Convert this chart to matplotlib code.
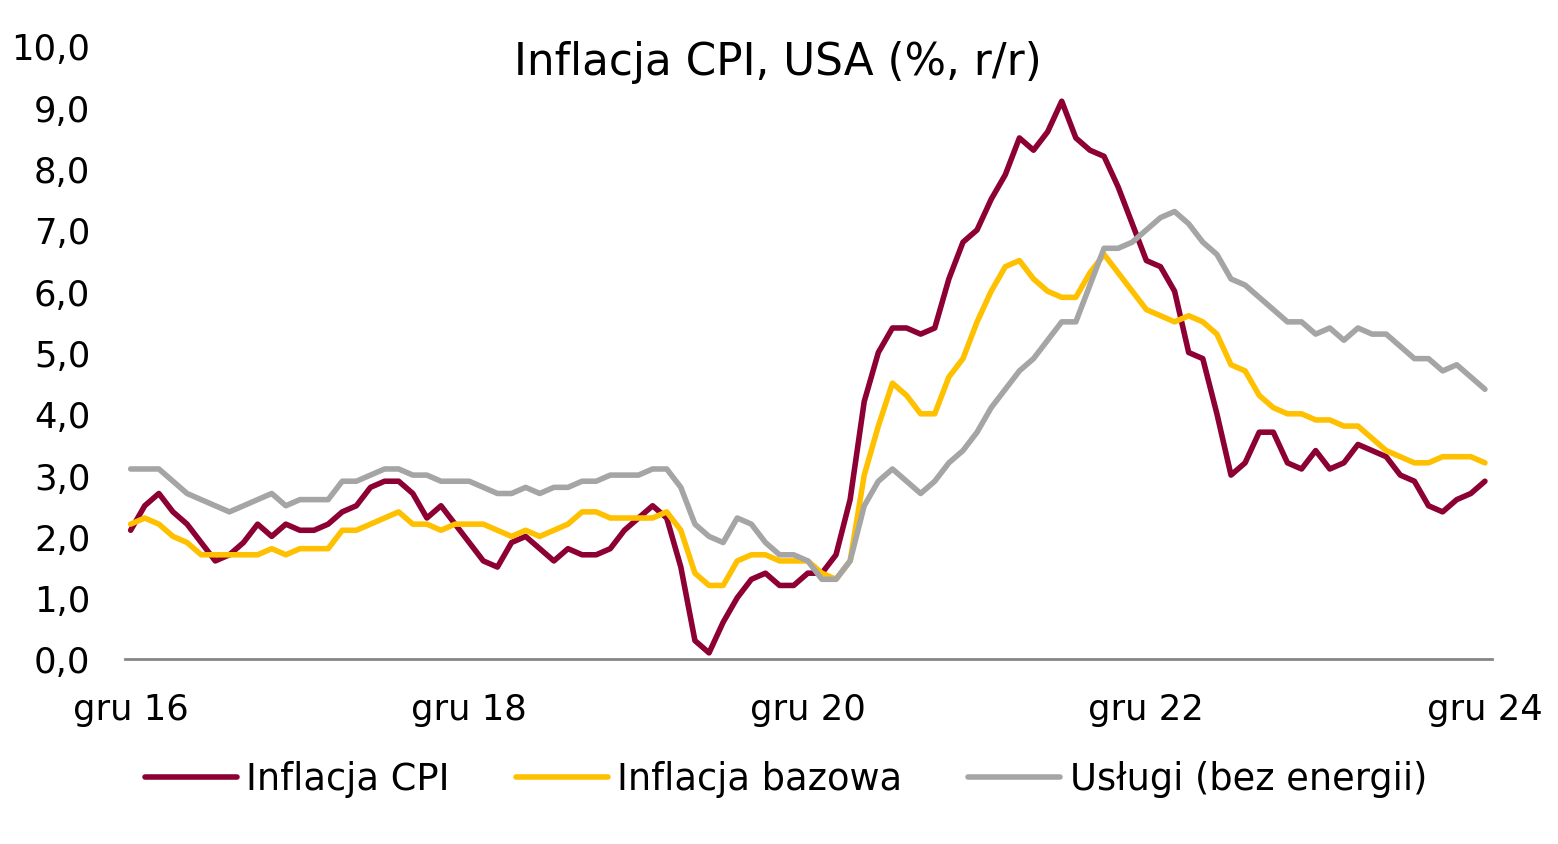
import matplotlib
matplotlib.use('Agg')
import matplotlib.pyplot as plt
from matplotlib.ticker import FuncFormatter

plt.rcParams['font.family'] = ['DejaVu Sans']

# miesiące od gru 2016 do gru 2024
months = list(range(97))
xtick_pos = [0, 24, 48, 72, 96]
xtick_labels = ['gru 16', 'gru 18', 'gru 20', 'gru 22', 'gru 24']

cpi = [2.1,
       2.5, 2.7, 2.4, 2.2, 1.9, 1.6, 1.7, 1.9, 2.2, 2.0, 2.2, 2.1,
       2.1, 2.2, 2.4, 2.5, 2.8, 2.9, 2.9, 2.7, 2.3, 2.5, 2.2, 1.9,
       1.6, 1.5, 1.9, 2.0, 1.8, 1.6, 1.8, 1.7, 1.7, 1.8, 2.1, 2.3,
       2.5, 2.3, 1.5, 0.3, 0.1, 0.6, 1.0, 1.3, 1.4, 1.2, 1.2, 1.4,
       1.4, 1.7, 2.6, 4.2, 5.0, 5.4, 5.4, 5.3, 5.4, 6.2, 6.8, 7.0,
       7.5, 7.9, 8.5, 8.3, 8.6, 9.1, 8.5, 8.3, 8.2, 7.7, 7.1, 6.5,
       6.4, 6.0, 5.0, 4.9, 4.0, 3.0, 3.2, 3.7, 3.7, 3.2, 3.1, 3.4,
       3.1, 3.2, 3.5, 3.4, 3.3, 3.0, 2.9, 2.5, 2.4, 2.6, 2.7, 2.9]

core = [2.2,
        2.3, 2.2, 2.0, 1.9, 1.7, 1.7, 1.7, 1.7, 1.7, 1.8, 1.7, 1.8,
        1.8, 1.8, 2.1, 2.1, 2.2, 2.3, 2.4, 2.2, 2.2, 2.1, 2.2, 2.2,
        2.2, 2.1, 2.0, 2.1, 2.0, 2.1, 2.2, 2.4, 2.4, 2.3, 2.3, 2.3,
        2.3, 2.4, 2.1, 1.4, 1.2, 1.2, 1.6, 1.7, 1.7, 1.6, 1.6, 1.6,
        1.4, 1.3, 1.6, 3.0, 3.8, 4.5, 4.3, 4.0, 4.0, 4.6, 4.9, 5.5,
        6.0, 6.4, 6.5, 6.2, 6.0, 5.9, 5.9, 6.3, 6.6, 6.3, 6.0, 5.7,
        5.6, 5.5, 5.6, 5.5, 5.3, 4.8, 4.7, 4.3, 4.1, 4.0, 4.0, 3.9,
        3.9, 3.8, 3.8, 3.6, 3.4, 3.3, 3.2, 3.2, 3.3, 3.3, 3.3, 3.2]

services = [3.1,
            3.1, 3.1, 2.9, 2.7, 2.6, 2.5, 2.4, 2.5, 2.6, 2.7, 2.5, 2.6,
            2.6, 2.6, 2.9, 2.9, 3.0, 3.1, 3.1, 3.0, 3.0, 2.9, 2.9, 2.9,
            2.8, 2.7, 2.7, 2.8, 2.7, 2.8, 2.8, 2.9, 2.9, 3.0, 3.0, 3.0,
            3.1, 3.1, 2.8, 2.2, 2.0, 1.9, 2.3, 2.2, 1.9, 1.7, 1.7, 1.6,
            1.3, 1.3, 1.6, 2.5, 2.9, 3.1, 2.9, 2.7, 2.9, 3.2, 3.4, 3.7,
            4.1, 4.4, 4.7, 4.9, 5.2, 5.5, 5.5, 6.1, 6.7, 6.7, 6.8, 7.0,
            7.2, 7.3, 7.1, 6.8, 6.6, 6.2, 6.1, 5.9, 5.7, 5.5, 5.5, 5.3,
            5.4, 5.2, 5.4, 5.3, 5.3, 5.1, 4.9, 4.9, 4.7, 4.8, 4.6, 4.4]

names = ['Inflacja CPI', 'Inflacja bazowa', 'Usługi (bez energii)']
colors = ['#8C0033', '#FFC000', '#A5A5A5']

fig = plt.figure(figsize=(15.58, 8.45), dpi=100)
ax = fig.add_axes([125 / 1558, 185 / 845, 1367 / 1558, 613 / 845])

for ys, name, c in zip([cpi, core, services], names, colors):
    ax.plot(months, ys, color=c, lw=4.0, label=name,
            solid_joinstyle='round', solid_capstyle='round')

ax.set_xlim(-0.4, 96.5)
ax.set_ylim(0, 10)
ax.set_yticks(range(0, 11))
ax.yaxis.set_major_formatter(FuncFormatter(lambda v, p: f'{v:.1f}'.replace('.', ',')))
ax.set_xticks(xtick_pos)
ax.set_xticklabels(xtick_labels)
ax.tick_params(axis='both', length=0, labelsize=25.5)
ax.tick_params(axis='x', pad=24)
ax.tick_params(axis='y', pad=25)

for s in ['top', 'right', 'left']:
    ax.spines[s].set_visible(False)
ax.spines['bottom'].set_color('#868686')
ax.spines['bottom'].set_linewidth(2)

fig.text(778 / 1558, 1 - 63 / 845, 'Inflacja CPI, USA (%, r/r)',
         ha='center', va='center', fontsize=31.5)

fig.legend(loc='center', bbox_to_anchor=(786 / 1558, 1 - 780 / 845),
           ncol=3, frameon=False, fontsize=26.5, handlelength=2.5,
           handletextpad=0.25, columnspacing=1.8)

fig.savefig('out.png', dpi=100)
